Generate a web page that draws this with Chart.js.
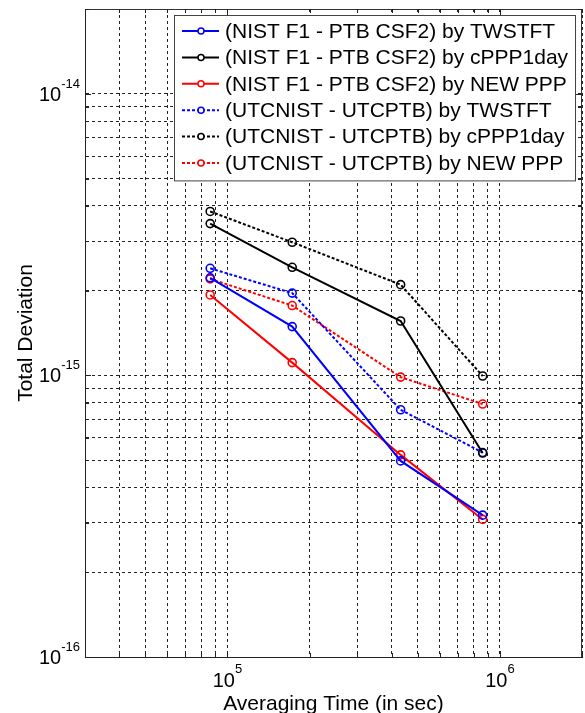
<!DOCTYPE html>
<html>
<head>
<meta charset="utf-8">
<script src="https://cdn.jsdelivr.net/npm/chart.js@4"></script>
<style>
  html, body { margin: 0; padding: 0; background: #fff; }
  #wrap { width: 585px; height: 713px; position: relative; }
  canvas { display: block; }
</style>
</head>
<body>
<div id="wrap"><canvas id="chart"></canvas></div>
<script>
// ----- data -----
const tau = [86400, 172800, 432000, 864000];

const nistTwstft   = [2.22e-15, 1.49e-15, 4.97e-16, 3.19e-16];
const nistCppp     = [3.46e-15, 2.42e-15, 1.56e-15, 5.30e-16];
const nistNewPpp   = [1.93e-15, 1.11e-15, 5.22e-16, 3.08e-16];
const utcTwstft    = [2.40e-15, 1.96e-15, 7.55e-16, 5.32e-16];
const utcCppp      = [3.82e-15, 2.97e-15, 2.10e-15, 9.95e-16];
const utcNewPpp    = [2.20e-15, 1.77e-15, 9.86e-16, 7.91e-16];

const seriesLabels = [
  "(NIST F1 - PTB CSF2) by TWSTFT",
  "(NIST F1 - PTB CSF2) by cPPP1day",
  "(NIST F1 - PTB CSF2) by NEW PPP",
  "(UTCNIST - UTCPTB) by TWSTFT",
  "(UTCNIST - UTCPTB) by cPPP1day",
  "(UTCNIST - UTCPTB) by NEW PPP",
];

const xMajorTicks = [1e5, 1e6];           // labelled 10^5, 10^6
const xMajorExp   = ["5", "6"];
const yMajorTicks = [1e-16, 1e-15, 1e-14];
const yMajorExp   = ["-16", "-15", "-14"];

const X_MIN = 3e4, X_MAX = 2e6;
const Y_MIN = 1e-16, Y_MAX = 2e-14;

const FONT = "Arial, 'Liberation Sans', sans-serif";
const BLUE = "#0000ff", BLACK = "#000000", RED = "#ff0000";
const DOT = [3, 2];

// ----- helpers -----
const pts = (ys) => ys.map((y, i) => ({ x: tau[i], y }));

// every 1..9 x 10^n tick inside [min, max]
function logTicks(min, max) {
  const out = [];
  for (let e = Math.floor(Math.log10(min)); e <= Math.ceil(Math.log10(max)); e++) {
    for (let m = 1; m <= 9; m++) {
      const v = m * Math.pow(10, e);
      if (v >= min * 0.999 && v <= max * 1.001) out.push({ value: v });
    }
  }
  return out;
}

function mkSet(label, data, color, dash) {
  return {
    label,
    data: pts(data),
    borderColor: color,
    backgroundColor: "transparent",
    borderWidth: 2,
    borderDash: dash,
    pointStyle: "circle",
    pointRadius: 4,
    pointBorderWidth: 1.6,
    pointBorderColor: color,
    pointBackgroundColor: "transparent",
    showLine: true,
    tension: 0,
  };
}

// ----- 手繪：刻度、標題、圖例 -----
const decorPlugin = {
  id: "decor",
  afterDraw(chart) {
    const { ctx, chartArea: a, scales } = chart;
    const xs = scales.x, ys = scales.y;
    ctx.save();

    // top / right box lines
    ctx.strokeStyle = "#333";
    ctx.lineWidth = 1;
    ctx.setLineDash([]);
    ctx.beginPath();
    ctx.moveTo(a.left, a.top + 0.5); ctx.lineTo(a.right, a.top + 0.5);
    ctx.moveTo(a.right - 0.5, a.top); ctx.lineTo(a.right - 0.5, a.bottom);
    ctx.stroke();

    // inward tick marks on all four sides
    ctx.strokeStyle = "#222";
    ctx.beginPath();
    xs.ticks.forEach(t => {
      const px = Math.round(xs.getPixelForValue(t.value)) + 0.5;
      const len = xMajorTicks.includes(t.value) ? 6 : 4;
      ctx.moveTo(px, a.bottom); ctx.lineTo(px, a.bottom - len);
      ctx.moveTo(px, a.top); ctx.lineTo(px, a.top + len);
    });
    ys.ticks.forEach(t => {
      const py = Math.round(ys.getPixelForValue(t.value)) + 0.5;
      const len = yMajorTicks.some(v => Math.abs(v - t.value) / v < 1e-6) ? 6 : 4;
      ctx.moveTo(a.left, py); ctx.lineTo(a.left + len, py);
      ctx.moveTo(a.right, py); ctx.lineTo(a.right - len, py);
    });
    ctx.stroke();

    // tick labels with superscripts
    ctx.fillStyle = "#000";
    ctx.textBaseline = "alphabetic";
    ctx.textAlign = "left";
    const big = `20px ${FONT}`, small = `13px ${FONT}`;

    yMajorTicks.forEach((v, i) => {
      const py = ys.getPixelForValue(v);
      ctx.font = small;
      const ws = ctx.measureText(yMajorExp[i]).width;
      ctx.font = big;
      const wb = ctx.measureText("10").width;
      const x0 = a.left - 5 - ws - wb;
      ctx.fillText("10", x0, py + 7);
      ctx.font = small;
      ctx.fillText(yMajorExp[i], x0 + wb, py - 6);
    });

    xMajorTicks.forEach((v, i) => {
      const px = xs.getPixelForValue(v);
      ctx.font = small;
      const ws = ctx.measureText(xMajorExp[i]).width;
      ctx.font = big;
      const wb = ctx.measureText("10").width;
      const x0 = px - (wb + ws) / 2;
      ctx.fillText("10", x0, a.bottom + 30);
      ctx.font = small;
      ctx.fillText(xMajorExp[i], x0 + wb, a.bottom + 16);
    });

    // axis titles
    ctx.font = `21px ${FONT}`;
    ctx.textAlign = "center";
    ctx.fillText("Averaging Time (in sec)", (a.left + a.right) / 2, 710);
    ctx.save();
    ctx.translate(32, (a.top + a.bottom) / 2);
    ctx.rotate(-Math.PI / 2);
    ctx.fillText("Total Deviation", 0, 0);
    ctx.restore();

    // legend box (top right, inside the axes)
    const sets = chart.data.datasets;
    const boxR = a.right - 6, boxL = a.left + 89, boxT = a.top + 6;
    const rowH = 26.4;
    const boxB = boxT + 8 + rowH * sets.length;
    ctx.fillStyle = "#fff";
    ctx.fillRect(boxL, boxT, boxR - boxL, boxB - boxT);
    ctx.strokeStyle = "#444";
    ctx.lineWidth = 1;
    ctx.setLineDash([]);
    ctx.strokeRect(boxL + 0.5, boxT + 0.5, boxR - boxL - 1, boxB - boxT - 1);

    ctx.font = `21px ${FONT}`;
    ctx.textAlign = "left";
    ctx.textBaseline = "middle";
    sets.forEach((ds, i) => {
      const cy = boxT + 16 + rowH * i;
      ctx.strokeStyle = ds.borderColor;
      ctx.lineWidth = 2;
      ctx.setLineDash(ds.borderDash || []);
      ctx.beginPath();
      ctx.moveTo(boxL + 8, cy); ctx.lineTo(boxL + 45, cy);
      ctx.stroke();
      ctx.setLineDash([]);
      ctx.fillStyle = "#fff";
      ctx.lineWidth = 1.5;
      ctx.beginPath();
      ctx.arc(boxL + 27, cy, 3, 0, Math.PI * 2);
      ctx.fill();
      ctx.stroke();
      ctx.fillStyle = "#000";
      ctx.fillText(ds.label, boxL + 51, cy + 1);
    });

    ctx.restore();
  },
};

// ----- chart -----
new Chart(document.getElementById("chart"), {
  type: "scatter",
  data: {
    datasets: [
      mkSet(seriesLabels[0], nistTwstft, BLUE, []),
      mkSet(seriesLabels[1], nistCppp, BLACK, []),
      mkSet(seriesLabels[2], nistNewPpp, RED, []),
      mkSet(seriesLabels[3], utcTwstft, BLUE, DOT),
      mkSet(seriesLabels[4], utcCppp, BLACK, DOT),
      mkSet(seriesLabels[5], utcNewPpp, RED, DOT),
    ],
  },
  options: {
    responsive: true,
    maintainAspectRatio: false,
    animation: false,
    devicePixelRatio: 1,
    layout: { autoPadding: false, padding: { left: 85, top: 9, right: 3, bottom: 56 } },
    scales: {
      x: {
        type: "logarithmic",
        min: X_MIN, max: X_MAX,
        afterBuildTicks: (s) => { s.ticks = logTicks(X_MIN, X_MAX); },
        ticks: { display: false },
        grid: { color: "#222", lineWidth: 1, drawTicks: false },
        border: { display: true, color: "#222", width: 1, dash: [3, 3] },
      },
      y: {
        type: "logarithmic",
        min: Y_MIN, max: Y_MAX,
        afterBuildTicks: (s) => { s.ticks = logTicks(Y_MIN, Y_MAX); },
        ticks: { display: false },
        grid: { color: "#222", lineWidth: 1, drawTicks: false },
        border: { display: true, color: "#222", width: 1, dash: [3, 3] },
      },
    },
    plugins: {
      legend: { display: false },
      tooltip: { enabled: false },
    },
  },
  plugins: [decorPlugin],
});
</script>
</body>
</html>
